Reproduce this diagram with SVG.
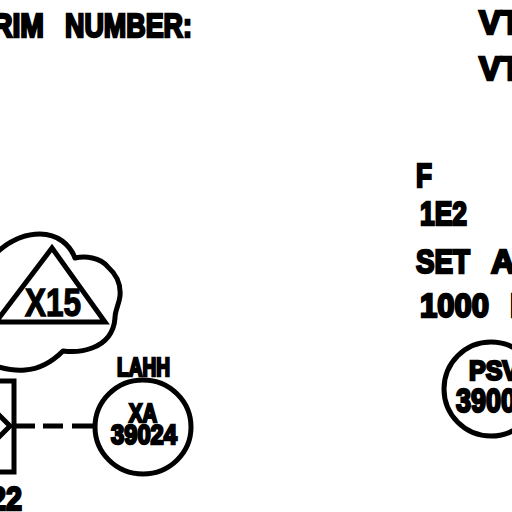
<svg xmlns="http://www.w3.org/2000/svg" width="512" height="512" viewBox="0 0 512 512">
<style>
text{font-family:"Liberation Sans",Arial,sans-serif;font-weight:bold;fill:#000;stroke:#000;stroke-width:2.4}
.l{fill:none;stroke:#000;stroke-width:5}
</style>
<rect width="512" height="512" fill="#fff"/>
<g id="connectors"><path class="l" d="M14 426H35M43 426H63M72 426H94"/></g>
<g id="titles">
<text x="-8" y="37" font-size="33" textLength="52" lengthAdjust="spacingAndGlyphs">RIM</text>
<text x="65" y="37" font-size="33" textLength="127" lengthAdjust="spacingAndGlyphs">NUMBER:</text>
<text x="479" y="34" font-size="33" textLength="42" lengthAdjust="spacingAndGlyphs">VT</text>
<text x="479" y="80" font-size="33" textLength="42" lengthAdjust="spacingAndGlyphs">VT</text>
</g>
<g id="cloud">
<path class="l" stroke-linejoin="round" d="M-5 254C10 240 25 234 40 234C58 234 70 245 75 258C85 256 100 257 108 267C117 275 121 285 120 296C119 305 115 310 115 318C114 332 106 343 92 348C82 352 72 352 63 351C52 362 40 369 25 370C15 371 5 369 -5 366"/>
<path class="l" d="M-4 322L52 248L105 322Z"/>
<text x="25" y="316" font-size="39" textLength="56" lengthAdjust="spacingAndGlyphs" style="stroke-width:1.4">X15</text>
</g>
<g id="box">
<path class="l" d="M-5 381H14V472H-5"/>
<path class="l" d="M-4 412L10 426L-4 440"/>
<text x="-10" y="510" font-size="33" textLength="32" lengthAdjust="spacingAndGlyphs">22</text>
</g>
<g id="xa">
<ellipse class="l" cx="143" cy="427" rx="48" ry="47"/>
<text x="117" y="376" font-size="26" textLength="53" lengthAdjust="spacingAndGlyphs">LAHH</text>
<text x="129" y="422" font-size="26" textLength="28" lengthAdjust="spacingAndGlyphs">XA</text>
<text x="111" y="444" font-size="28" textLength="66" lengthAdjust="spacingAndGlyphs">39024</text>
</g>
<g id="notes">
<text x="416" y="187" font-size="33" textLength="16" lengthAdjust="spacingAndGlyphs">F</text>
<text x="420" y="225" font-size="33" textLength="47" lengthAdjust="spacingAndGlyphs">1E2</text>
<text x="416" y="273" font-size="33" textLength="54" lengthAdjust="spacingAndGlyphs">SET</text>
<text x="491" y="273" font-size="33" textLength="24" lengthAdjust="spacingAndGlyphs">A</text>
<text x="420" y="317" font-size="33" textLength="69" lengthAdjust="spacingAndGlyphs">1000</text>
<text x="510" y="317" font-size="33">I</text>
</g>
<g id="psv">
<circle class="l" cx="491" cy="389" r="47"/>
<text x="469" y="380" font-size="27" textLength="50" lengthAdjust="spacingAndGlyphs">PSV</text>
<text x="456" y="412" font-size="33" textLength="60" lengthAdjust="spacingAndGlyphs">3900</text>
</g>
</svg>
